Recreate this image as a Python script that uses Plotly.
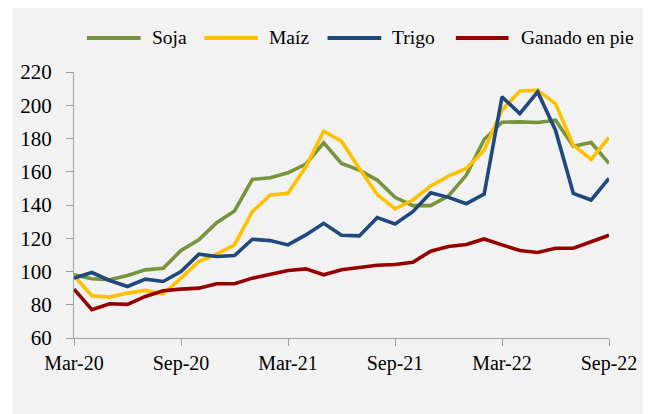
import plotly.graph_objects as go

months = ["Mar-20", "Apr-20", "May-20", "Jun-20", "Jul-20", "Aug-20", "Sep-20", "Oct-20", "Nov-20", "Dec-20",
          "Jan-21", "Feb-21", "Mar-21", "Apr-21", "May-21", "Jun-21", "Jul-21", "Aug-21", "Sep-21", "Oct-21",
          "Nov-21", "Dec-21", "Jan-22", "Feb-22", "Mar-22", "Apr-22", "May-22", "Jun-22", "Jul-22", "Aug-22",
          "Sep-22"]
tick_labels = ["Mar-20", "Sep-20", "Mar-21", "Sep-21", "Mar-22", "Sep-22"]

soja = [98, 95.6, 95, 97.6, 101, 102, 112.6, 119, 129.4, 136.4, 155.4, 156.4, 159.4, 164.6, 177.4, 165,
        161, 155, 144.6, 139.6, 139.6, 145.5, 158, 179.4, 189.8, 190, 189.6, 191, 175.4, 177.6, 165]
maiz = [97.4, 85.4, 84.6, 87, 88.6, 86.4, 96, 106, 110.4, 116, 136, 146, 147, 163, 184.4, 178.4,
        162, 146.4, 137.6, 143, 151.4, 157.4, 162, 173, 197, 208.6, 209, 201, 176, 167.4, 180.6]
trigo = [96, 99.4, 94.6, 91, 95.4, 94, 100, 110.4, 109, 109.6, 119.4, 118.6, 116, 122, 129, 121.8,
         121.4, 132.4, 128.6, 136, 147.4, 144.6, 140.8, 146.6, 205, 195, 208, 185, 147, 143, 156]
ganado = [89.4, 77, 80.6, 80.2, 85, 88.4, 89.4, 90, 92.6, 92.6, 96, 98.4, 100.6, 101.6, 98, 101,
          102.6, 103.8, 104.2, 105.6, 112.2, 115, 116.2, 119.6, 116, 112.6, 111.4, 114, 114, 118, 121.8]

series = [
    ("Soja", soja, "#77933C"),
    ("Maíz", maiz, "#FFC000"),
    ("Trigo", trigo, "#1F497D"),
    ("Ganado en pie", ganado, "#960000"),
]

FONT = "Times New Roman, Liberation Serif, DejaVu Serif, serif"
OFF = 8  # page body margin
W, H = 651 - OFF, 414 - OFF
ML, MR, MT, MB = 63, 42, 64, 76
PW = W - ML - MR
PH = H - MT - MB


def px_x(px):
    return (px - OFF - ML) / PW


def px_y(py):
    return (H - MB - (py - OFF)) / PH


fig = go.Figure()
for name, vals, color in series:
    fig.add_trace(go.Scatter(x=months, y=vals, mode="lines", name=name,
                             line=dict(color=color, width=3.6), showlegend=False))

shapes = [dict(type="rect", xref="paper", yref="paper", x0=px_x(9), x1=px_x(670),
               y0=px_y(0), y1=px_y(430), fillcolor="#f2f2f2", line=dict(width=0), layer="below")]
annotations = []
legend_pos = [(84, 138, 147), (202, 256, 265), (326, 380, 389), (455, 508, 518)]
ly = px_y(38)
for (name, vals, color), (a, b, t) in zip(series, legend_pos):
    shapes.append(dict(type="line", xref="paper", yref="paper", x0=px_x(a), x1=px_x(b),
                       y0=ly, y1=ly, line=dict(color=color, width=4)))
    annotations.append(dict(xref="paper", yref="paper", x=px_x(t), y=ly, text=name,
                            showarrow=False, xanchor="left", yanchor="middle",
                            font=dict(family=FONT, size=19.5, color="black")))

fig.update_layout(
    width=W, height=H, autosize=False,
    margin=dict(l=ML, r=MR, t=MT, b=MB),
    paper_bgcolor="white", plot_bgcolor="#f2f2f2",
    font=dict(family=FONT, size=20, color="black"),
    shapes=shapes, annotations=annotations,
    showlegend=False,
)
fig.update_xaxes(type="category", range=[0, 30], tickmode="array", tickvals=tick_labels,
                 ticktext=tick_labels, showgrid=False, zeroline=False, showline=True,
                 linecolor="#a0a0a0", linewidth=1.3, ticks="outside", ticklen=7,
                 tickcolor="#a0a0a0", tickwidth=1.3, tickfont=dict(family=FONT, size=20))
fig.update_yaxes(range=[60, 220], tickmode="array", tickvals=list(range(60, 221, 20)),
                 showgrid=False, zeroline=False, showline=True, linecolor="#a0a0a0",
                 linewidth=1.3, ticks="outside", ticklen=7, tickcolor="#a0a0a0", tickwidth=1.3,
                 ticklabelstandoff=10, tickfont=dict(family=FONT, size=21))

fig.write_html("out.html")
